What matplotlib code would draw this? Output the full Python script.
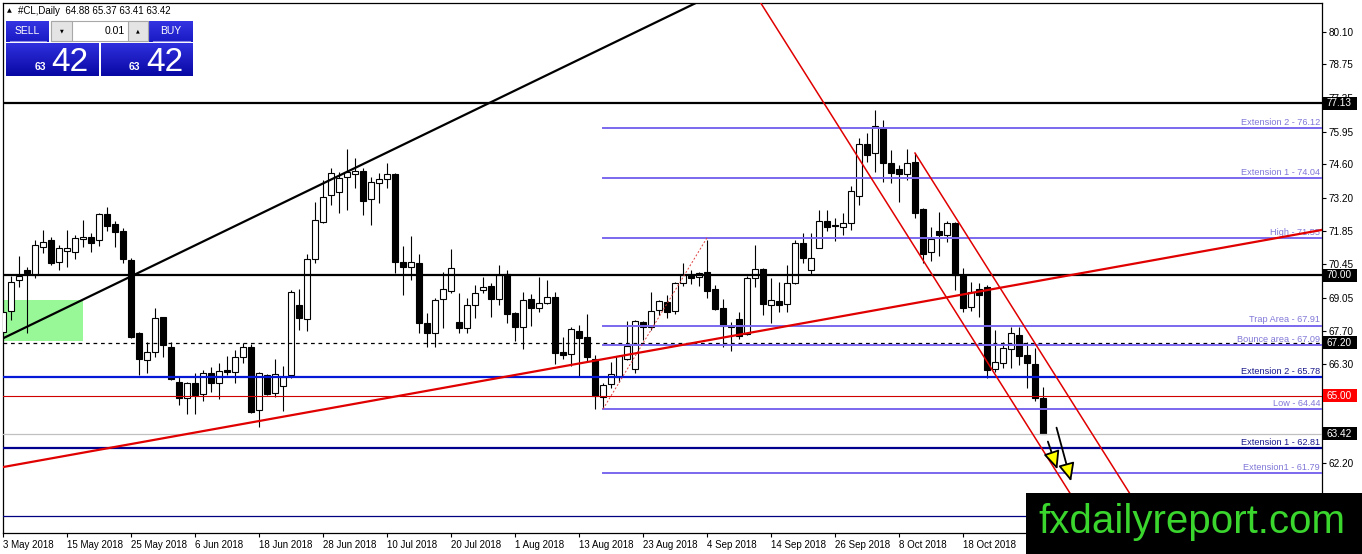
import matplotlib
matplotlib.use("Agg")
import matplotlib.pyplot as plt
import matplotlib.transforms as mtransforms
from matplotlib.patches import Rectangle, FancyArrowPatch
from matplotlib.colors import LinearSegmentedColormap
import numpy as np

plt.rcParams['font.family'] = ['Liberation Sans', 'DejaVu Sans']

# ---------------- data ----------------
symbol = "#CL,Daily"
header_ohlc = "64.88 65.37 63.41 63.42"
bid_big = "42"
bid_small = "63"
lot = "0.01"

opens = [67.64, 68.51, 69.80, 70.22, 70.01, 71.17, 71.46, 70.55, 71.01, 70.96,
         71.50, 71.59, 71.46, 72.54, 72.13, 71.84, 70.63, 67.60, 66.48, 66.81,
         68.26, 67.02, 65.57, 64.90, 65.52, 65.07, 65.94, 65.52, 66.06, 65.98,
         66.60, 67.02, 64.40, 65.86, 65.11, 65.40, 65.86, 68.76, 68.18, 70.67,
         72.21, 73.33, 73.46, 74.08, 74.20, 74.33, 73.17, 73.83, 73.99, 74.20,
         70.55, 70.34, 70.51, 68.02, 67.60, 69.01, 69.34, 68.06, 67.81, 68.76,
         69.39, 69.55, 69.01, 70.05, 68.43, 67.85, 69.01, 68.64, 68.85, 69.10,
         66.81, 66.73, 67.68, 67.43, 66.52, 64.94, 65.48, 65.77, 66.52, 66.11,
         68.06, 67.85, 68.56, 68.89, 68.51, 69.68, 70.01, 69.93, 70.13, 69.43,
         68.64, 67.89, 68.18, 67.56, 69.89, 70.26, 68.76, 68.93, 68.80, 69.68,
         71.34, 70.22, 71.13, 72.25, 72.09, 72.00, 72.17, 73.29, 75.45, 75.07,
         76.11, 74.66, 74.41, 74.20, 74.70, 72.75, 70.96, 71.84, 71.67, 72.17,
         70.01, 68.68, 69.43, 69.51, 66.11, 66.35, 66.94, 67.52, 66.69, 66.31,
         64.88]
highs = [68.56, 69.97, 70.80, 70.34, 71.46, 71.88, 71.59, 71.25, 71.88, 71.67,
         72.29, 71.75, 72.58, 72.83, 72.25, 71.96, 70.72, 67.62, 67.23, 68.64,
         68.28, 67.23, 65.77, 65.57, 65.94, 66.06, 66.19, 66.35, 66.65, 66.89,
         67.19, 67.14, 65.98, 65.90, 66.52, 66.23, 69.39, 69.43, 70.88, 73.04,
         73.95, 74.45, 74.29, 75.24, 74.87, 74.45, 74.08, 74.24, 74.66, 74.24,
         71.21, 71.63, 70.88, 68.43, 69.05, 70.13, 71.09, 69.26, 69.05, 69.59,
         69.93, 69.68, 70.42, 70.22, 68.47, 69.30, 69.22, 69.93, 69.80, 69.30,
         67.43, 67.85, 67.93, 68.39, 66.69, 65.52, 66.40, 66.69, 68.10, 68.14,
         68.10, 69.30, 68.97, 69.18, 69.72, 70.51, 70.22, 70.12, 71.45, 69.59,
         69.01, 68.06, 68.47, 69.97, 71.25, 70.30, 69.89, 69.72, 70.42, 71.46,
         71.75, 71.75, 72.71, 72.71, 72.38, 72.58, 73.70, 75.70, 75.91, 76.86,
         76.45, 75.20, 74.58, 75.24, 75.08, 72.79, 72.00, 72.63, 72.25, 72.21,
         70.30, 69.72, 69.68, 69.59, 67.72, 67.23, 67.85, 67.85, 67.23, 66.98,
         65.37]
lows = [67.56, 68.14, 69.51, 67.60, 69.88, 70.92, 70.42, 70.22, 70.34, 70.67,
        71.17, 70.96, 71.21, 71.84, 71.17, 70.51, 67.39, 65.86, 65.94, 66.60,
        66.60, 65.65, 64.61, 64.24, 64.24, 64.78, 65.15, 64.86, 65.86, 65.52,
        66.35, 64.28, 63.70, 65.03, 64.94, 64.36, 65.73, 67.72, 67.68, 70.51,
        72.17, 72.92, 72.58, 72.71, 73.62, 72.50, 72.09, 73.00, 73.62, 70.09,
        69.18, 69.80, 67.60, 67.02, 67.02, 67.81, 69.26, 67.60, 67.60, 68.22,
        69.26, 68.26, 68.76, 68.02, 67.27, 66.94, 67.89, 68.47, 68.80, 66.31,
        66.52, 66.23, 65.77, 66.40, 64.44, 64.49, 65.32, 65.57, 66.48, 65.94,
        67.31, 67.72, 68.35, 68.22, 68.39, 69.55, 69.64, 69.55, 69.05, 68.56,
        67.02, 66.85, 67.35, 67.52, 69.51, 68.35, 68.02, 68.47, 68.47, 69.64,
        70.51, 70.05, 71.11, 71.84, 71.42, 71.67, 71.88, 72.92, 74.70, 74.29,
        73.87, 73.83, 73.04, 73.95, 72.38, 70.51, 70.59, 70.80, 71.38, 69.39,
        68.47, 68.51, 68.26, 65.73, 65.98, 66.15, 66.15, 66.27, 65.32, 64.78,
        63.41]
closes = [68.47, 69.72, 69.97, 70.09, 71.25, 71.38, 70.51, 71.13, 71.13, 71.55,
          71.59, 71.34, 72.54, 72.04, 71.79, 70.67, 67.43, 66.52, 66.81, 68.22,
          67.10, 65.69, 64.90, 65.52, 65.03, 65.94, 65.52, 66.02, 65.98, 66.60,
          67.02, 64.32, 65.94, 65.07, 65.90, 65.77, 69.30, 68.22, 70.67, 72.29,
          73.25, 74.24, 74.04, 74.29, 74.33, 73.08, 73.87, 73.99, 74.20, 70.55,
          70.34, 70.55, 68.02, 67.60, 68.97, 69.43, 70.30, 67.81, 68.76, 69.26,
          69.51, 69.01, 70.01, 68.39, 67.85, 68.97, 68.64, 68.85, 69.10, 66.77,
          66.69, 67.77, 67.39, 66.60, 64.99, 65.44, 65.90, 66.65, 67.06, 68.10,
          67.85, 68.51, 68.93, 68.47, 69.68, 70.01, 69.89, 70.09, 69.34, 68.60,
          67.89, 67.85, 67.48, 69.89, 70.26, 68.80, 68.97, 68.76, 69.68, 71.34,
          70.72, 70.72, 72.25, 72.00, 72.04, 72.17, 73.50, 75.45, 74.99, 76.20,
          74.66, 74.24, 74.20, 74.66, 72.58, 70.88, 71.50, 71.67, 72.17, 70.01,
          68.64, 69.30, 69.18, 66.06, 66.40, 66.98, 67.60, 66.65, 66.35, 64.90,
          63.42]

date_labels = ["3 May 2018", "15 May 2018", "25 May 2018", "6 Jun 2018", "18 Jun 2018",
               "28 Jun 2018", "10 Jul 2018", "20 Jul 2018", "1 Aug 2018", "13 Aug 2018",
               "23 Aug 2018", "4 Sep 2018", "14 Sep 2018", "26 Sep 2018", "8 Oct 2018",
               "18 Oct 2018"]
date_label_step = 8

price_ticks = [80.10, 78.75, 77.35, 75.95, 74.60, 73.20, 71.85, 70.45, 69.05,
               67.70, 66.30, 64.90, 63.55, 62.20, 60.80]

black_levels = [77.13, 70.00]
dashed_level = 67.20
red_level = 65.00
bid_level = 63.42
navy_level = 60.00
ext_levels = [65.78, 62.81]
ext_labels = ["Extension 2 - 65.78", "Extension 1 - 62.81"]
ext_colors = ["#0418D8", "#00008E"]
fib_levels = [76.12, 74.04, 71.55, 67.91, 67.09, 64.44, 61.79]
fib_labels = ["Extension 2 - 76.12", "Extension 1 - 74.04", "High - 71.55",
              "Trap Area - 67.91", "Bounce area - 67.09", "Low - 64.44",
              "Extension1 - 61.79"]
fib_start_bar = 75
fib_swing = [(75, 64.44), (88, 71.55)]

price_boxes = [77.13, 70.00, 67.20, 65.00, 63.42]
price_box_colors = ["black", "black", "black", "#FF0000", "black"]

black_trend = [(15.875, 69.93), (55.875, 76.36)]
red_trend = [(0.125, 62.04), (164.875, 71.88)]
channel_lower = [(94.625, 81.35), (133.125, 61.08)]
channel_upper = [(114.0, 75.07), (141.5, 60.59)]
green_zone = (0, 10, 67.28, 68.95)  # bar from, bar to, price low, price high

arrow_tails = [(130.5, 63.20), (131.6, 63.78)]
arrow_heads = [(131.9, 61.83), (133.6, 61.33)]

logo_text = "fxdailyreport.com"

# ---------------- figure ----------------
W, H = 1362, 554
fig = plt.figure(figsize=(W / 100, H / 100), dpi=100)
fig.patch.set_facecolor("white")

ax = fig.add_axes([3 / W, (H - 533) / H, (1322 - 3) / W, (533 - 3) / H])
ax.set_xlim(0, 164.875)
ax.set_ylim(59.295, 81.30)
for s in ax.spines.values():
    s.set_linewidth(0.9)
    s.set_color("black")

n = len(opens)
idx = np.arange(n)
o = np.array(opens); h = np.array(highs); l = np.array(lows); c = np.array(closes)
up = c >= o

# green zone
ax.add_patch(Rectangle((green_zone[0], green_zone[2]), green_zone[1] - green_zone[0],
                       green_zone[3] - green_zone[2], facecolor="#98F898",
                       edgecolor="none", zorder=1))

# candles
ax.vlines(idx, l, h, color="black", linewidth=0.8, zorder=2)
bb = np.minimum(o, c)
bh = np.maximum(np.abs(c - o), 0.02)
ax.bar(idx[up], bh[up], bottom=bb[up], width=0.64, color="white",
       edgecolor="black", linewidth=0.8, zorder=3)
ax.bar(idx[~up], bh[~up], bottom=bb[~up], width=0.64, color="black",
       edgecolor="black", linewidth=0.8, zorder=3)

trans = mtransforms.blended_transform_factory(ax.transAxes, ax.transData)

# horizontal levels
ax.axhline(navy_level, color="#000080", linewidth=0.9, zorder=4)
ax.axhline(bid_level, color="#C0C0C0", linewidth=0.9, zorder=4)
ax.axhline(red_level, color="#D00000", linewidth=0.8, zorder=4)
ax.axhline(dashed_level, color="black", linewidth=0.9, linestyle=(0, (3, 3)), zorder=4)
for lv in black_levels:
    ax.axhline(lv, color="black", linewidth=1.6, zorder=5)
for lv, lab, col in zip(ext_levels, ext_labels, ext_colors):
    ax.axhline(lv, color=col, linewidth=1.6, zorder=5)
    ax.text(0.9985, lv + 0.05, lab, transform=trans, ha="right", va="bottom",
            fontsize=6.6, color="#1A1A8C", zorder=6)
for lv, lab in zip(fib_levels, fib_labels):
    ax.plot([fib_start_bar, 164.875], [lv, lv], color="#7B68EE", linewidth=1.4, zorder=5)
    ax.text(0.9985, lv + 0.05, lab, transform=trans, ha="right", va="bottom",
            fontsize=6.6, color="#8078D8", zorder=6)

# fib swing (dotted red)
ax.plot([fib_swing[0][0], fib_swing[1][0]], [fib_swing[0][1], fib_swing[1][1]],
        color="#E04040", linewidth=0.7, linestyle=(0, (2, 2)), zorder=5)

# trendlines
ax.axline(black_trend[0], black_trend[1], color="black", linewidth=1.6, zorder=6)
ax.axline(red_trend[0], red_trend[1], color="#E00000", linewidth=1.6, zorder=6)
ax.axline(channel_lower[0], channel_lower[1], color="#E00000", linewidth=1.1, zorder=6)
ax.plot([channel_upper[0][0], channel_upper[1][0]],
        [channel_upper[0][1], channel_upper[1][1]], color="#E00000", linewidth=1.1, zorder=6)

# arrows
for tail, head in zip(arrow_tails, arrow_heads):
    ar = FancyArrowPatch(tail, head, arrowstyle="-|>,head_length=11,head_width=5",
                         mutation_scale=1, facecolor="#FFFF00", edgecolor="black",
                         linewidth=1.3, zorder=7)
    ax.add_patch(ar)

# axes ticks
ax.set_xticks(idx[::date_label_step][:len(date_labels)])
ax.set_xticklabels(date_labels, ha="left")
ax.tick_params(axis="x", length=3, width=0.8, pad=2, labelsize=7, colors="black")
ax.yaxis.tick_right()
ax.set_yticks(price_ticks)
ax.set_yticklabels([f"{p:.2f}" for p in price_ticks])
ax.tick_params(axis="y", length=3, width=0.8, pad=2, labelsize=7.2, colors="black")

# price boxes on the price scale (cover the tick labels below them, as in MT4)
box_w = 34 / 1319          # axes fraction
box_half_h = 6.5 / 24.08    # price units
for p, col in zip(price_boxes, price_box_colors):
    ax.add_patch(Rectangle((1.0008, p - box_half_h), box_w, 2 * box_half_h,
                           transform=trans, facecolor=col, edgecolor="none",
                           zorder=9, clip_on=False))
    ax.text(1.0032, p, f"{p:.2f}", transform=trans, ha="left", va="center",
            fontsize=7.2, color="white", zorder=10, clip_on=False)

# ---------------- overlay (panel, header, logo) ----------------
ov = fig.add_axes([0, 0, 1, 1], zorder=5)
ov.set_xlim(0, W)
ov.set_ylim(H, 0)
ov.axis("off")
ov.patch.set_visible(False)


def grad_box(x0, y0, x1, y1, top, bot):
    cmap = LinearSegmentedColormap.from_list("g", [top, bot])
    grad = np.linspace(0, 1, 64).reshape(-1, 1)
    ov.imshow(grad, cmap=cmap, extent=[x0, x1, y1, y0], aspect="auto",
              interpolation="bilinear", zorder=2)


ov.text(7, 11, "\u25B2", fontsize=4.5, color="black", va="center", ha="left",
        family=["DejaVu Sans"])
ov.text(18, 11, f"{symbol}  {header_ohlc}", fontsize=7, color="black", va="center", ha="left")

grad_box(6, 21, 49, 42, "#3434E2", "#1A1AC4")
grad_box(149, 21, 193, 42, "#3434E2", "#1A1AC4")
ov.plot([10, 46], [40.5, 40.5], color="#8C8CE8", linewidth=0.8, zorder=3)
ov.plot([153, 190], [40.5, 40.5], color="#8C8CE8", linewidth=0.8, zorder=3)
ov.text(27.5, 30.5, "SELL", fontsize=7.5, color="white", ha="center", va="center", zorder=4)
ov.text(171, 30.5, "BUY", fontsize=7.5, color="white", ha="center", va="center", zorder=4)

ov.add_patch(Rectangle((51, 21), 97, 20, facecolor="white", edgecolor="#A8A8A8",
                       linewidth=0.8, zorder=2))
ov.add_patch(Rectangle((51, 21), 21, 20, facecolor="#E4E4E4", edgecolor="#A8A8A8",
                       linewidth=0.8, zorder=3))
ov.add_patch(Rectangle((128, 21), 20, 20, facecolor="#E4E4E4", edgecolor="#A8A8A8",
                       linewidth=0.8, zorder=3))
ov.text(61.5, 31, "\u25BC", fontsize=3.5, color="black", ha="center", va="center",
        family=["DejaVu Sans"], zorder=4)
ov.text(138, 30.5, "\u25B2", fontsize=3.5, color="black", ha="center", va="center",
        family=["DejaVu Sans"], zorder=4)
ov.text(125, 30.5, lot, fontsize=7.5, color="black", ha="right", va="center", zorder=4)

grad_box(6, 43, 99, 76, "#3030DE", "#0808A4")
grad_box(101, 43, 193, 76, "#3030DE", "#0808A4")
for xs, xb in [(35, 51), (129, 146)]:
    ov.text(xs, 70, bid_small, fontsize=7.5, fontweight="bold", color="white",
            ha="left", va="baseline", zorder=4)
    ov.text(xb, 71, bid_big, fontsize=24, color="white", ha="left", va="baseline", zorder=4)

# logo
ov.add_patch(Rectangle((1026, 493), W - 1026, H - 493, facecolor="black",
                       edgecolor="none", zorder=2))
ov.text(1192, 522, logo_text, fontsize=29, color="#3AD62E", ha="center",
        va="center", zorder=3)

fig.savefig("out.png", dpi=100)
